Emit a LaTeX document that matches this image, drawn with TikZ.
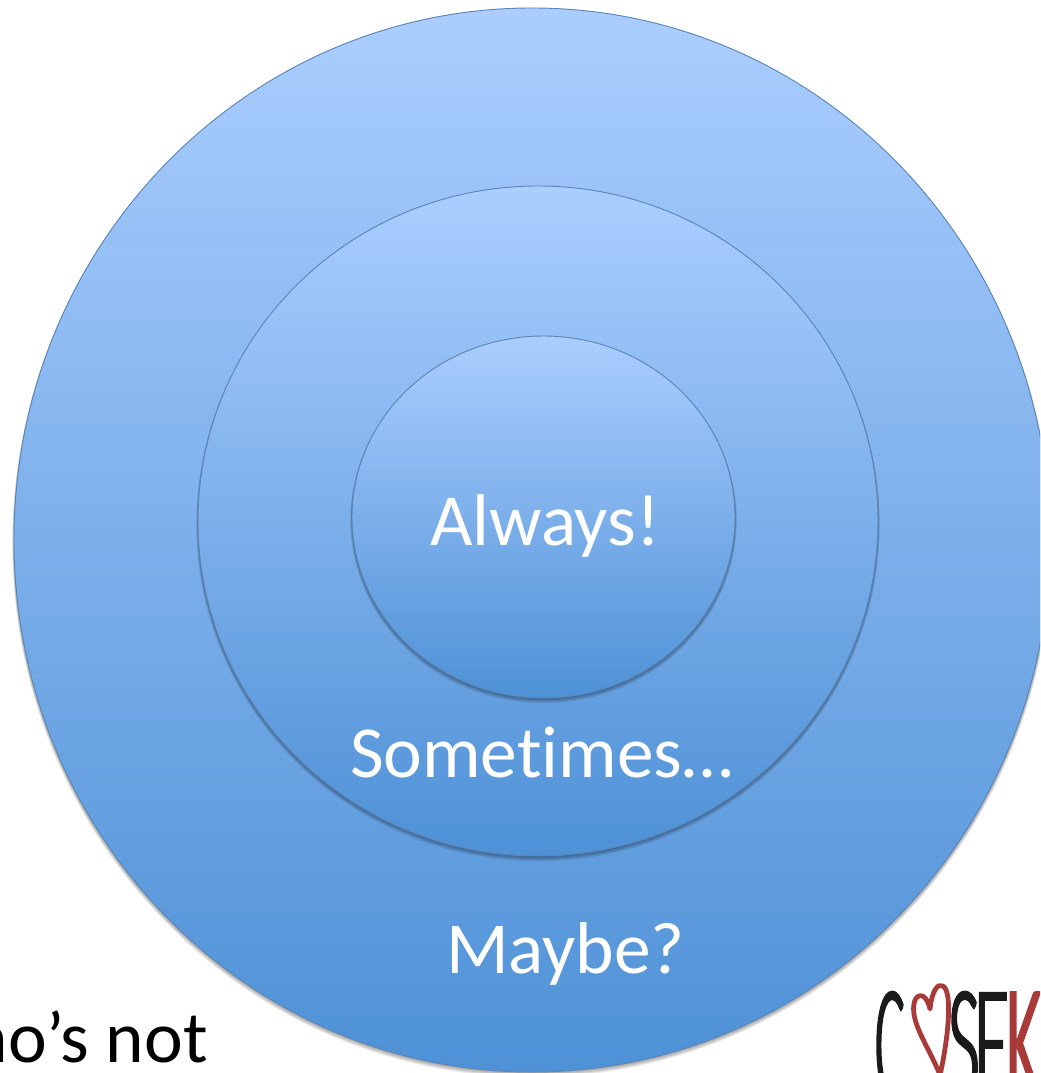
\documentclass[tikz,border=0pt]{standalone}
\usepackage{fontspec}
\setmainfont{Carlito}
\newfontfamily\logofont[UprightFont={* Light},FakeStretch=0.29,FakeBold=2]{Lato}
\newfontfamily\logowidefont[UprightFont={* Light},FakeStretch=0.40,FakeBold=2]{Lato}
\newfontfamily\logokfont[UprightFont={* Light},FakeStretch=0.36,FakeBold=3]{Lato}
\definecolor{disctop}{HTML}{ABCEFF}
\definecolor{discbottom}{HTML}{4E91D6}
\definecolor{discline}{HTML}{5B86B8}
\definecolor{logored}{HTML}{A93A3A}
\definecolor{logoblack}{HTML}{1A1A1A}
\tikzset{
  x=0.75pt,y=-0.75pt,
  disc/.style={draw=discline,line width=0.7pt,top color=disctop,bottom color=discbottom,middle color=disctop!50!discbottom},
  shade1/.style={fill=black,fill opacity=0.08,draw=none},
  label/.style={text=white,font=\fontsize{55}{60}\selectfont,inner sep=0pt},
  logoletter/.style={font=\logofont\fontsize{110}{110}\selectfont,inner sep=0pt,anchor=base west,text=logoblack},
  logowide/.style={logoletter,font=\logowidefont\fontsize{110}{110}\selectfont},
}
\newcommand{\softshadow}[4]{%
  \foreach \d in {1,2,3,4,5}{\fill[shade1] (#1,#2+\d*0.7) ellipse [x radius=#3+\d*0.35,y radius=#4+\d*0.35];}
}
\begin{document}
\begin{tikzpicture}
\useasboundingbox (0,0) rectangle (1040,1073);
\clip (0,0) rectangle (1040,1073);
\fill[white] (0,0) rectangle (1040,1073);
\softshadow{532}{540}{518}{532}
\path[disc] (532,540) ellipse [x radius=518,y radius=532];
\softshadow{538}{521}{340}{335}
\path[disc] (538,521) ellipse [x radius=340,y radius=335];
\softshadow{543.5}{517}{191.5}{181}
\path[disc] (543.5,517) ellipse [x radius=191.5,y radius=181];
\node[label,anchor=base] (always) at (545,545) {Always!};
\node[label,anchor=base] (sometimes) at (541.5,777) {Somet\kern0pt imes…};
\node[label,anchor=base] (maybe) at (565.5,973) {Maybe?};
\node[text=black,font=\fontsize{55}{60}\selectfont,inner sep=0pt,anchor=base east] (whos) at (208,1062) {ho’s not};
% logo
\node[logoletter] (logoC) at (875,1097) {C};
\node[logowide] (logoS) at (948,1097) {S};
\node[logowide] (logoE) at (974,1097) {E};
\node[logoletter,font=\logokfont\fontsize{110}{110}\selectfont,text=logored] (logoK) at (1006,1097) {K};
\draw[logored,line width=3.6pt,line join=round] (940,1075) .. controls (928,1045) and (908,1020) .. (915,1000) .. controls (919,992) and (927,995) .. (930,1009) .. controls (932,990) and (938,983) .. (943,986) .. controls (953,992) and (948,1040) .. (940,1075);
\end{tikzpicture}
\end{document}
